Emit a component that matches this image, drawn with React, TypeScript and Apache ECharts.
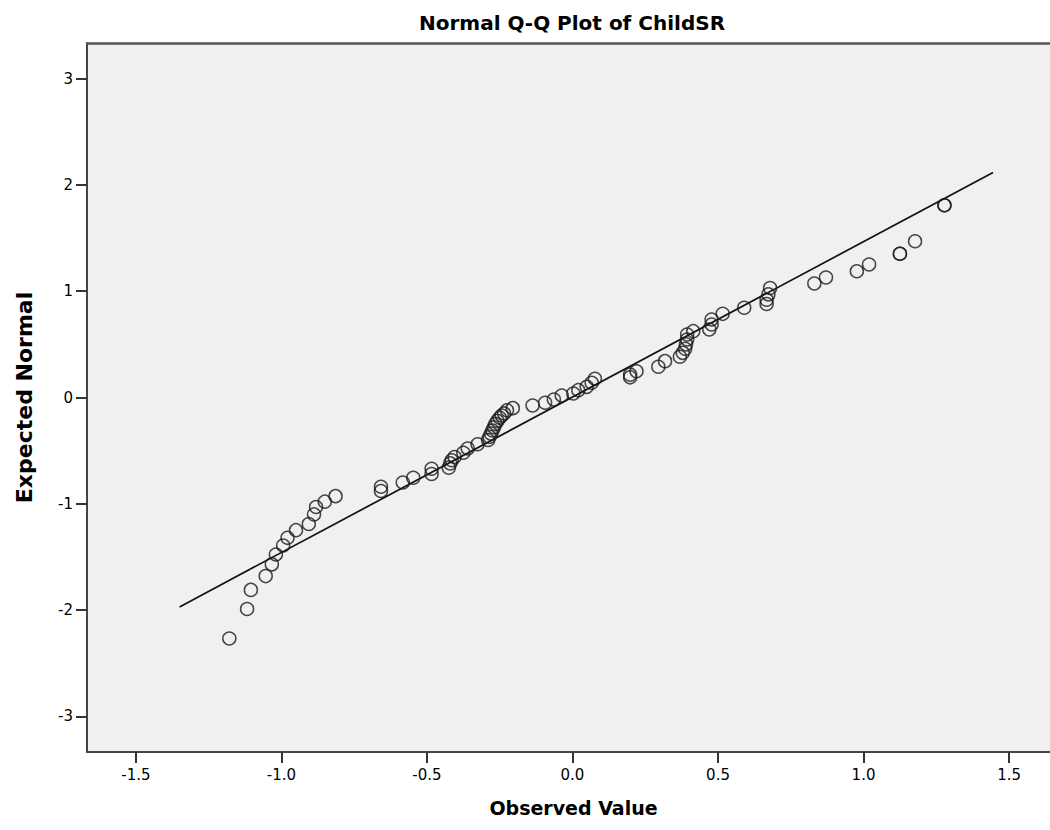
import React, { useEffect, useRef } from "react";
import * as echarts from "echarts";

const observed: number[] = [
  -1.179, -1.118, -1.105, -1.054, -1.033, -1.019, -0.994, -0.979, -0.95, -0.906,
  -0.888, -0.881, -0.851, -0.814, -0.658, -0.658, -0.583, -0.547, -0.484, -0.484,
  -0.425, -0.42, -0.415, -0.405, -0.375, -0.36, -0.326,
  -0.29, -0.285, -0.28, -0.275, -0.27, -0.265, -0.258, -0.25, -0.243, -0.235, -0.225, -0.205,
  -0.137, -0.094, -0.064, -0.037, 0.003, 0.02, 0.049, 0.066, 0.077,
  0.198, 0.198, 0.22, 0.295, 0.318, 0.369, 0.379, 0.387, 0.39, 0.394, 0.394, 0.415,
  0.47, 0.478, 0.478, 0.516, 0.59, 0.667, 0.667, 0.673, 0.679,
  0.831, 0.871, 0.977, 1.019, 1.125, 1.125, 1.177, 1.278, 1.278,
];

const expected: number[] = [
  -2.267, -1.99, -1.81, -1.68, -1.57, -1.477, -1.392, -1.32, -1.248, -1.19,
  -1.1, -1.03, -0.98, -0.928, -0.84, -0.88, -0.8, -0.755, -0.67, -0.72,
  -0.66, -0.62, -0.59, -0.56, -0.52, -0.48, -0.44,
  -0.4, -0.37, -0.34, -0.31, -0.28, -0.25, -0.22, -0.19, -0.17, -0.15, -0.12, -0.1,
  -0.075, -0.05, -0.019, 0.019, 0.038, 0.069, 0.1, 0.138, 0.176,
  0.19, 0.215, 0.247, 0.289, 0.342, 0.383, 0.42, 0.458, 0.5, 0.546, 0.593, 0.624,
  0.64, 0.687, 0.734, 0.787, 0.844, 0.88, 0.92, 0.97, 1.03,
  1.072, 1.129, 1.188, 1.251, 1.352, 1.352, 1.47, 1.809, 1.809,
];

const refLineX: number[] = [-1.35, 1.445];
const refLineY: number[] = [-1.97, 2.117];

const xTicks: number[] = [-1.5, -1.0, -0.5, 0.0, 0.5, 1.0, 1.5];
const yTicks: number[] = [-3, -2, -1, 0, 1, 2, 3];

const FONT = "'DejaVu Sans', sans-serif";
const X_MIN = -1.668;
const X_MAX = 1.675;

export default function App() {
  const ref = useRef<HTMLDivElement>(null);

  useEffect(() => {
    document.body.style.margin = "0";
    if (!ref.current) return;
    const chart = echarts.init(ref.current, null, { renderer: "svg" });
    const points = observed.map((x, i) => [x, expected[i]]);
    const line = refLineX.map((x, i) => [x, refLineY[i]]);
    chart.setOption({
      animation: false,
      backgroundColor: "#ffffff",
      title: {
        text: "Normal Q-Q Plot of ChildSR",
        left: 567,
        textAlign: "center",
        top: 8,
        textStyle: { fontFamily: FONT, fontWeight: "bold", fontSize: 20, color: "#000" },
      },
      grid: {
        left: 87,
        top: 43,
        right: -10,
        bottom: 78,
        containLabel: false,
        outerBoundsMode: "none",
        show: true,
        backgroundColor: "#f0f0f0",
        borderWidth: 0,
      },
      xAxis: [
        {
          type: "value",
          min: X_MIN,
          max: X_MAX,
          name: "Observed Value",
          nameLocation: "middle",
          nameGap: 46,
          nameTextStyle: { fontFamily: FONT, fontWeight: "bold", fontSize: 19, color: "#000" },
          axisLine: { show: true, onZero: false, lineStyle: { color: "#444", width: 2 } },
          axisTick: { show: true, length: 11, customValues: xTicks, lineStyle: { color: "#333", width: 2 } },
          axisLabel: {
            customValues: xTicks,
            formatter: (v: number) => v.toFixed(1),
            margin: 15,
            fontFamily: FONT,
            fontSize: 15,
            color: "#000",
          },
          splitLine: { show: false },
        },
        {
          type: "value",
          position: "top",
          min: X_MIN,
          max: X_MAX,
          axisLine: { show: true, onZero: false, lineStyle: { color: "#555", width: 2.5 } },
          axisTick: { show: false },
          axisLabel: { show: false },
          splitLine: { show: false },
        },
      ],
      yAxis: {
        type: "value",
        min: -3.335,
        max: 3.335,
        name: "Expected Normal",
        nameLocation: "middle",
        nameGap: 52,
        nameTextStyle: { fontFamily: FONT, fontWeight: "bold", fontSize: 22, color: "#000" },
        axisLine: { show: true, onZero: false, lineStyle: { color: "#444", width: 2 } },
        axisTick: { show: true, length: 11, customValues: yTicks, lineStyle: { color: "#333", width: 2 } },
        axisLabel: {
          customValues: yTicks,
          formatter: (v: number) => String(Math.round(v)),
          margin: 14,
          fontFamily: FONT,
          fontSize: 15,
          color: "#000",
        },
        splitLine: { show: false },
      },
      series: [
        {
          type: "line",
          data: line,
          symbol: "none",
          lineStyle: { color: "#111", width: 1.7 },
          silent: true,
          z: 2,
        },
        {
          type: "scatter",
          data: points,
          symbol: "circle",
          symbolSize: 13,
          itemStyle: { color: "rgba(0,0,0,0)", borderColor: "#1a1a1a", borderWidth: 1.5 },
          z: 3,
        },
      ],
    });
    return () => chart.dispose();
  }, []);

  return <div ref={ref} style={{ width: 1050, height: 830 }} />;
}
